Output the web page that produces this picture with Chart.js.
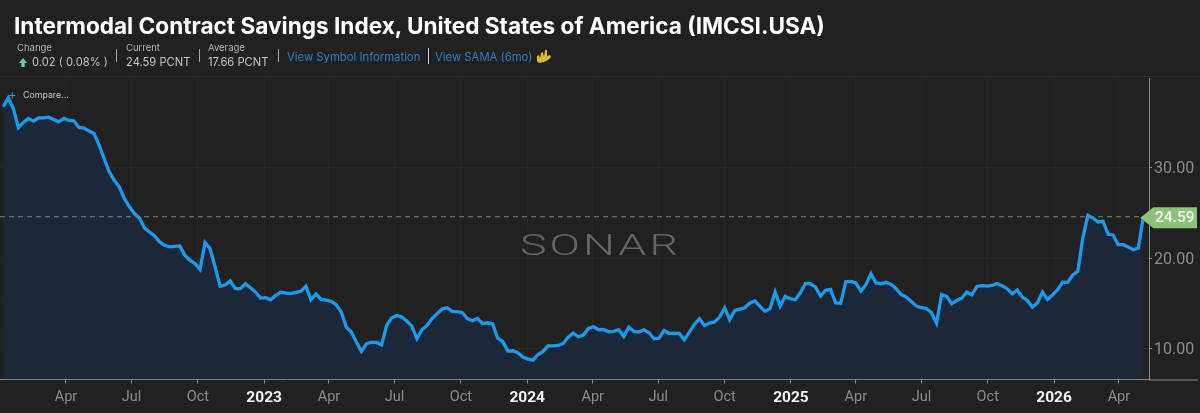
<!DOCTYPE html>
<html>
<head>
<meta charset="utf-8">
<title>IMCSI.USA</title>
<script src="https://cdn.jsdelivr.net/npm/chart.js@4"></script>
<style>
  html, body { margin: 0; padding: 0; background: #212121; }
  body { width: 1200px; height: 413px; overflow: hidden; position: relative; font-family: Inter, Roboto, sans-serif; }
  canvas { position: absolute; left: 0; top: 0; }
  .abs { position: absolute; white-space: nowrap; }
  #title { left: 14px; top: 11px; font-size: 22.6px; line-height: 30px; font-weight: 700; color: #fff; }
  #rule { left: 0; top: 76px; width: 1200px; height: 1px; background: #303030; }
  .lbl { font-size: 9.5px; color: #b4b4b4; line-height: 12px; }
  .val { font-size: 11.2px; color: #c4c4c4; line-height: 14px; }
  .sep { width: 1px; background: #a8a8a8; }
  .link { font-size: 11.3px; color: #2f7fc4; line-height: 14px; }
  #compare { left: 23px; top: 89px; font-size: 8.8px; line-height: 12px; color: #c8c8c8; }
  #plus { left: 8px; top: 88px; font-size: 13px; line-height: 13px; color: #4a90d0; }
  #sonar { left: 520px; top: 227px; font-size: 29.5px; line-height: 36px; letter-spacing: 2px; font-weight: 300; color: #666; font-family: Roboto, sans-serif; transform: scaleX(1.52); transform-origin: left center; }
</style>
</head>
<body>
<canvas id="chart" width="1200" height="413"></canvas>
<div class="abs" id="title">Intermodal Contract Savings Index, United States of America (IMCSI.USA)</div>
<div class="abs lbl" style="left:17px;top:42px">Change</div>
<svg class="abs" style="left:18px;top:57px" width="10" height="11" viewBox="0 0 10 11">
  <path d="M5 1l4 5H6.7v4H3.3V6H1z" fill="#5fd0a0"/>
</svg>
<div class="abs val" style="left:32px;top:55px">0.02 ( 0.08% )</div>
<div class="abs sep" style="left:116px;top:49px;height:13px"></div>
<div class="abs lbl" style="left:126px;top:42px">Current</div>
<div class="abs val" style="left:126px;top:55px">24.59 PCNT</div>
<div class="abs sep" style="left:199px;top:49px;height:13px"></div>
<div class="abs lbl" style="left:208px;top:42px">Average</div>
<div class="abs val" style="left:208px;top:55px">17.66 PCNT</div>
<div class="abs sep" style="left:278px;top:49px;height:13px"></div>
<div class="abs link" style="left:287px;top:50px">View Symbol Information</div>
<div class="abs sep" style="left:428px;top:48px;height:16px;background:#d0d0d0"></div>
<div class="abs link" style="left:435px;top:50px">View SAMA (6mo)</div>
<svg class="abs" style="left:536px;top:49px" width="16" height="15" viewBox="0 0 16 15">
  <path d="M1 7l2-1 1 3 1-5 2-1 1 5 1-7 2 0v6l3-1 1 2-3 3-4 2-5 1-2-2z" fill="#dcb82c"/>
</svg>
<div class="abs" id="rule"></div>
<div class="abs" id="plus">+</div>
<div class="abs" id="compare">Compare...</div>
<div class="abs" id="sonar">SONAR</div>

<script>
const startDate = "2022-01-04";

// weekly readings, percent
const savings = [
  36.73, 37.72, 36.54, 34.41, 35.0, 35.44, 35.14, 35.51, 35.51, 35.58,
  35.33, 35.07, 35.44, 35.22, 35.18, 34.44, 34.37, 34.04, 33.78, 32.49,
  31.02, 29.54, 28.62, 27.89, 26.6, 25.68, 24.94, 24.46, 23.36, 22.91,
  22.47, 21.81, 21.44, 21.26, 21.33, 21.37, 20.34, 19.79, 19.42, 18.79,
  21.74, 21.07, 19.05, 16.91, 17.05, 17.5, 16.65, 16.65, 17.2, 16.76,
  16.28, 15.62, 15.66, 15.43, 15.91, 16.25, 16.17, 16.1, 16.25, 16.36,
  16.94, 15.43, 16.06, 15.47, 15.4, 15.25, 14.88, 14.07, 12.41, 11.86,
  10.76, 9.73, 10.57, 10.76, 10.72, 10.46, 12.6, 13.45, 13.7, 13.52,
  13.08, 12.52, 11.13, 12.12, 12.6, 13.34, 13.89, 14.4, 14.55, 14.15,
  14.11, 14.0, 13.34, 13.11, 13.37, 12.82, 12.89, 12.78, 11.2, 10.83,
  9.76, 9.8, 9.58, 9.1, 8.88, 8.77, 9.39, 9.73, 10.35, 10.35,
  10.39, 10.61, 11.31, 11.75, 11.35, 11.53, 12.27, 12.45, 12.12, 12.16,
  11.9, 11.94, 12.12, 11.38, 12.41, 11.94, 11.86, 12.12, 11.79, 11.13,
  11.2, 12.05, 11.71, 11.75, 11.71, 11.01, 11.86, 12.71, 13.34, 12.6,
  12.86, 12.97, 13.52, 14.55, 13.22, 14.26, 14.4, 14.55, 15.07, 15.29,
  14.7, 14.15, 14.44, 16.28, 14.73, 15.8, 15.54, 15.43, 16.2, 17.24,
  17.2, 16.83, 15.84, 16.47, 16.58, 15.07, 15.03, 17.42, 17.46, 17.28,
  16.39, 17.09, 18.31, 17.28, 17.2, 17.35, 17.13, 16.65, 16.0, 15.72,
  15.25, 14.73, 14.55, 14.47, 13.99, 12.85, 16.02, 15.8, 14.99, 15.36,
  15.61, 16.28, 15.98, 16.9, 16.98, 16.94, 17.01, 17.23, 16.98, 16.65,
  16.09, 16.5, 15.72, 15.36, 14.62, 15.1, 16.28, 15.47, 15.98, 16.54,
  17.38, 17.35, 18.16, 18.56, 22.28, 24.75, 24.45, 24.01, 24.09, 22.65,
  22.58, 21.51, 21.51, 21.25, 20.95, 21.14, 24.59
];

const tickDates = [
  "2022-04-01", "2022-07-01", "2022-10-01", "2023-01-01", "2023-04-01", "2023-07-01", "2023-10-01",
  "2024-01-01", "2024-04-01", "2024-07-01", "2024-10-01", "2025-01-01", "2025-04-01", "2025-07-01",
  "2025-10-01", "2026-01-01", "2026-04-01"
];
const tickLabels = [
  "Apr", "Jul", "Oct", "2023", "Apr", "Jul", "Oct", "2024", "Apr", "Jul", "Oct", "2025", "Apr", "Jul",
  "Oct", "2026", "Apr"
];
const yTicks = [10, 20, 30];
const currentValue = 24.59;

const DAY = 86400000;
const dayOf = (s) => Date.parse(s + "T00:00:00Z") / DAY;
const firstDay = dayOf(startDate);
const points = savings.map((v, i) => ({ x: firstDay + i * 7, y: v }));
const xMin = dayOf("2022-01-01") - 1.5;
const xMax = xMin + 1149 / 0.7207;
const tickDays = tickDates.map(dayOf);
const labelFor = (day) => tickLabels[tickDays.indexOf(day)];
const isYear = (c) => !!c.tick && /^\d+$/.test(labelFor(c.tick.value) || "");

// green price tag on the right axis, and the x axis line running on under the labels
const lastValueTag = {
  id: "lastValueTag",
  afterDraw(chart) {
    const { ctx, scales, chartArea } = chart;
    const y = scales.y.getPixelForValue(currentValue) + 1;
    const x = scales.x.getPixelForValue(points[points.length - 1].x);
    ctx.save();
    ctx.strokeStyle = "#8f8f8f";
    ctx.lineWidth = 1;
    ctx.beginPath();
    ctx.moveTo(chartArea.right, chartArea.bottom + 0.5);
    ctx.lineTo(1198, chartArea.bottom + 0.5);
    ctx.stroke();
    ctx.fillStyle = "#8cc278";
    ctx.beginPath();
    ctx.moveTo(x - 3, y);
    ctx.lineTo(x + 10, y - 10.5);
    ctx.lineTo(1197, y - 10.5);
    ctx.lineTo(1197, y + 10.5);
    ctx.lineTo(x + 10, y + 10.5);
    ctx.closePath();
    ctx.fill();
    ctx.fillStyle = "#f4f8f0";
    ctx.font = "500 15.5px Roboto, sans-serif";
    ctx.textAlign = "left";
    ctx.textBaseline = "middle";
    ctx.fillText(currentValue.toFixed(2), 1155, y + 0.5);
    ctx.restore();
  }
};

new Chart(document.getElementById("chart"), {
  type: "line",
  data: {
    datasets: [
      {
        data: points,
        borderColor: "#1a9bf2",
        borderWidth: 3.3,
        pointRadius: 0,
        tension: 0,
        fill: "start",
        backgroundColor: "#1c2838",
        order: 2,
      },
      {
        data: [{ x: xMin, y: currentValue }, { x: points[points.length - 1].x, y: currentValue }],
        borderColor: "#7c8a70",
        borderWidth: 1,
        borderDash: [5, 4],
        pointRadius: 0,
        fill: false,
        order: 1,
      },
    ],
  },
  plugins: [lastValueTag],
  options: {
    responsive: false,
    animation: false,
    devicePixelRatio: 1,
    layout: { padding: { top: 78, left: 0, right: 0, bottom: 0 } },
    plugins: { legend: { display: false }, tooltip: { enabled: false } },
    scales: {
      x: {
        type: "linear",
        min: xMin,
        max: xMax,
        afterBuildTicks: (axis) => { axis.ticks = tickDays.map((d) => ({ value: d })); },
        afterFit: (axis) => { axis.height = 33.5; },
        grid: { color: "rgba(255,255,255,0.035)", tickColor: "#8f8f8f", tickLength: 4, drawOnChartArea: true },
        border: { color: "#8f8f8f" },
        ticks: {
          autoSkip: false,
          maxRotation: 0,
          padding: 5,
          callback: (v) => labelFor(v),
          color: (c) => (isYear(c) ? "#f2f2f2" : "#8c8c8c"),
          font: (c) => ({ family: "Roboto, sans-serif", size: isYear(c) ? 15.5 : 14.5, weight: isYear(c) ? "700" : "400" }),
        },
      },
      y: {
        position: "right",
        min: 6.63,
        max: 39.9,
        afterBuildTicks: (axis) => { axis.ticks = yTicks.map((v) => ({ value: v })); },
        afterFit: (axis) => { axis.width = 51; },
        grid: { color: "rgba(255,255,255,0.035)", tickColor: "#8f8f8f", tickLength: 3 },
        border: { color: "#8f8f8f" },
        ticks: {
          padding: 2,
          labelOffset: 1.5,
          callback: (v) => v.toFixed(2),
          color: "#8c8c8c",
          font: { family: "Roboto, sans-serif", size: 16 },
        },
      },
    },
  },
});
</script>
</body>
</html>
